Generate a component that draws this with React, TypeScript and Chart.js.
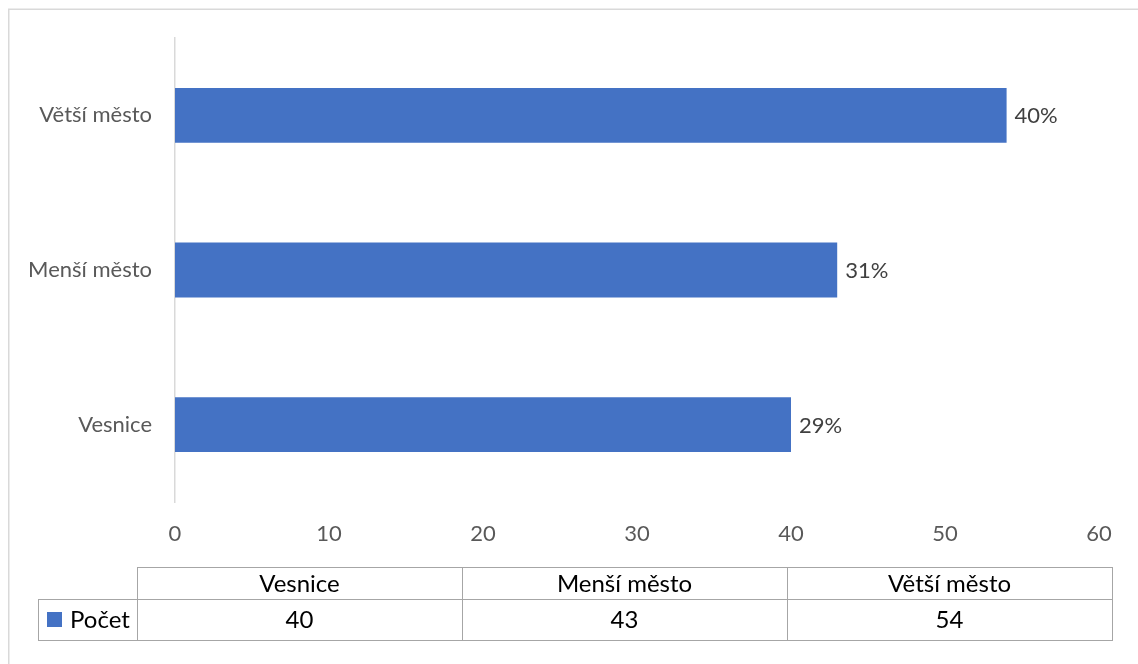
import React, { useEffect, useRef } from 'react';
import { Chart, registerables } from 'chart.js';

Chart.register(...registerables);

const categories = ['Vesnice', 'Menší město', 'Větší město'];
const counts = [40, 43, 54];
const shares = ['29%', '31%', '40%'];
const seriesName = 'Počet';
const axisMin = 0;
const axisMax = 60;
const axisStep = 10;

const FONT = 'Lato, "Open Sans", sans-serif';
const BLUE = '#4472C4';
const W = 1138;
const H = 664;

const decorPlugin = {
  id: 'decor',
  afterDatasetsDraw(chart: any) {
    const ctx = chart.ctx;
    const meta = chart.getDatasetMeta(0);
    ctx.save();
    ctx.font = `22px ${FONT}`;
    ctx.fillStyle = '#404040';
    ctx.textAlign = 'left';
    ctx.textBaseline = 'middle';
    meta.data.forEach((bar: any, i: number) => {
      ctx.fillText(shares[i], bar.x + 8, bar.y + 1);
    });
    ctx.restore();
  },
  afterDraw(chart: any) {
    const ctx = chart.ctx;
    ctx.save();
    // outer chart border (only top and left fall inside the view)
    ctx.strokeStyle = '#d9d9d9';
    ctx.lineWidth = 1.5;
    ctx.beginPath();
    ctx.moveTo(8.75, H + 10);
    ctx.lineTo(8.75, 9.25);
    ctx.lineTo(W + 10, 9.25);
    ctx.stroke();

    // data table
    const tL = 137;
    const tR = 1112;
    const legL = 38;
    const yTop = 567;
    const yMid = 599;
    const yBot = 640;
    const n = categories.length;
    const colW = (tR - tL) / n;
    ctx.strokeStyle = '#a6a6a6';
    ctx.lineWidth = 1;
    ctx.strokeRect(tL + 0.5, yTop + 0.5, tR - tL, yMid - yTop);
    ctx.strokeRect(legL + 0.5, yMid + 0.5, tR - legL, yBot - yMid);
    ctx.beginPath();
    ctx.moveTo(tL + 0.5, yMid);
    ctx.lineTo(tL + 0.5, yBot);
    for (let i = 1; i < n; i++) {
      const x = Math.round(tL + i * colW) + 0.5;
      ctx.moveTo(x, yTop);
      ctx.lineTo(x, yBot);
    }
    ctx.stroke();

    ctx.fillStyle = '#000000';
    ctx.font = `24px ${FONT}`;
    ctx.textAlign = 'center';
    ctx.textBaseline = 'middle';
    for (let i = 0; i < n; i++) {
      const cx = tL + (i + 0.5) * colW;
      ctx.fillText(categories[i], cx, (yTop + yMid) / 2 + 1);
      ctx.fillText(String(counts[i]), cx, (yMid + yBot) / 2 + 1);
    }
    // legend key
    ctx.fillStyle = BLUE;
    ctx.fillRect(47, 612, 15, 15);
    ctx.fillStyle = '#000000';
    ctx.textAlign = 'left';
    ctx.fillText(seriesName, 70, (yMid + yBot) / 2 + 1);
    ctx.restore();
  },
};

export default function App() {
  const ref = useRef<HTMLCanvasElement | null>(null);

  useEffect(() => {
    document.documentElement.style.overflow = 'hidden';
    document.body.style.overflow = 'hidden';
    const canvas = ref.current;
    if (!canvas) return;
    const chart = new Chart(canvas, {
      type: 'bar',
      data: {
        labels: categories,
        datasets: [
          {
            label: seriesName,
            data: counts,
            backgroundColor: BLUE,
            borderWidth: 0,
            barPercentage: 0.355,
            categoryPercentage: 1,
          },
        ],
      },
      options: {
        indexAxis: 'y',
        animation: false,
        responsive: false,
        maintainAspectRatio: false,
        devicePixelRatio: 1,
        layout: { padding: { top: 38, right: 39, left: 0, bottom: 0 } },
        plugins: {
          legend: { display: false },
          tooltip: { enabled: false },
          title: { display: false },
        },
        scales: {
          x: {
            type: 'linear',
            min: axisMin,
            max: axisMax,
            grid: { display: false, drawTicks: false },
            border: { display: false },
            ticks: {
              stepSize: axisStep,
              color: '#595959',
              font: { family: FONT, size: 22 },
              padding: 19,
              maxRotation: 0,
            },
            afterFit(scale: any) {
              scale.height = 162;
              scale.paddingLeft = 0;
              scale.paddingRight = 0;
            },
          },
          y: {
            type: 'category',
            reverse: true,
            grid: { display: false, drawTicks: false },
            border: { display: true, color: '#d9d9d9', width: 1.5 },
            ticks: {
              color: '#595959',
              font: { family: FONT, size: 22 },
              padding: 23,
            },
            afterFit(scale: any) {
              scale.width = 175;
              scale.paddingTop = 0;
              scale.paddingBottom = 0;
            },
          },
        },
      },
      plugins: [decorPlugin],
    });
    return () => chart.destroy();
  }, []);

  return (
    <div
      style={{
        position: 'fixed',
        left: 0,
        top: 0,
        width: W,
        height: H,
        overflow: 'hidden',
        background: '#ffffff',
      }}
    >
      <canvas
        ref={ref}
        width={W}
        height={H}
        style={{ display: 'block', width: W, height: H }}
      />
    </div>
  );
}
